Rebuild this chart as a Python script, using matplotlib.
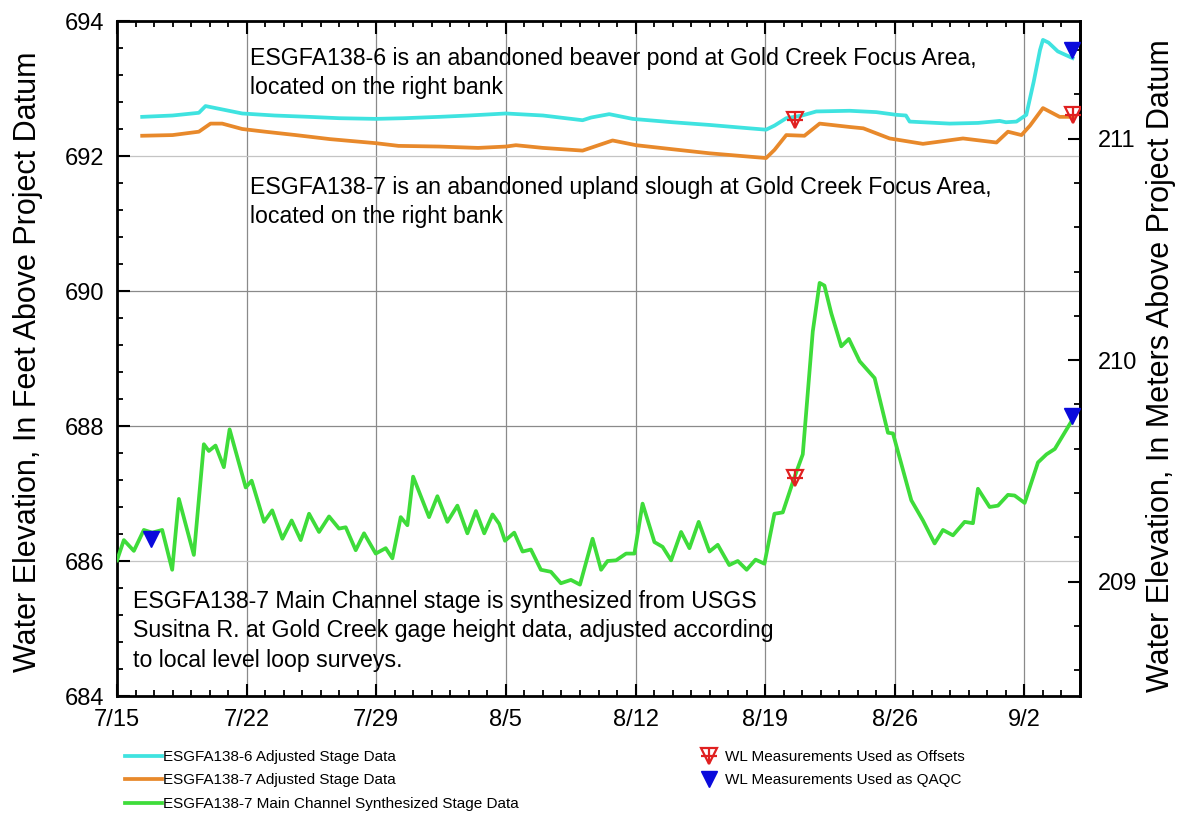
import datetime as dt
import matplotlib
matplotlib.use("Agg")
import matplotlib.pyplot as plt
import matplotlib.dates as mdates
from matplotlib.ticker import MultipleLocator, FixedLocator, NullFormatter
from matplotlib.legend_handler import HandlerTuple

plt.rcParams['font.family'] = ['Liberation Sans', 'DejaVu Sans']

START = dt.datetime(2013, 7, 15)
END_DAY = 52.0
FT_TO_M = 0.3048

# ESGFA138-6 adjusted stage (days after 7/15, feet)
pond_days = [1.36, 3.0, 4.42, 4.78, 5.32, 6.76, 8.5, 10.37, 12.0, 13.97, 15.5, 17.4,
             19.0, 21.0, 23.0, 25.14, 25.6, 26.58, 27.84, 30.0, 32.0, 34.15, 35.05,
             35.5, 36.14, 37.0, 37.76, 39.56, 41.0, 42.08, 42.6, 42.8, 44.96, 46.5,
             47.66, 48.0, 48.57, 49.1, 49.5, 49.84, 50.0, 50.3, 50.8, 51.2, 51.6]
pond_ft = [692.58, 692.60, 692.64, 692.74, 692.71, 692.63, 692.60, 692.58, 692.56,
           692.55, 692.56, 692.58, 692.60, 692.63, 692.60, 692.53, 692.57, 692.62,
           692.55, 692.50, 692.46, 692.41, 692.39, 692.45, 692.56, 692.60, 692.66,
           692.67, 692.65, 692.61, 692.60, 692.51, 692.48, 692.49, 692.52, 692.50,
           692.51, 692.61, 693.10, 693.57, 693.72, 693.68, 693.55, 693.50, 693.45]

# ESGFA138-7 adjusted stage
slough_days = [1.36, 3.0, 4.42, 5.05, 5.68, 6.76, 8.0, 9.65, 11.5, 13.97, 15.2, 17.4,
               19.5, 21.0, 21.54, 23.0, 25.14, 26.76, 28.03, 30.0, 32.0, 34.15, 35.05,
               35.5, 36.14, 37.12, 37.94, 39.56, 40.3, 41.72, 43.52, 45.68, 47.49,
               48.11, 48.84, 49.3, 50.0, 50.9, 51.63]
slough_ft = [692.30, 692.31, 692.36, 692.48, 692.48, 692.40, 692.36, 692.31, 692.25,
             692.19, 692.15, 692.14, 692.12, 692.14, 692.16, 692.12, 692.08, 692.23,
             692.16, 692.10, 692.04, 691.99, 691.97, 692.09, 692.31, 692.30, 692.48,
             692.43, 692.41, 692.26, 692.18, 692.26, 692.20, 692.36, 692.31, 692.45,
             692.71, 692.58, 692.58]

# ESGFA138-7 main channel synthesized stage
main_days = [0.0, 0.37, 0.91, 1.45, 1.9, 2.44, 2.98, 3.34, 4.15, 4.69, 4.96, 5.32, 5.77,
             6.08, 6.95, 7.27, 7.94, 8.38, 8.93, 9.43, 9.92, 10.37, 10.91, 11.45,
             11.99, 12.35, 12.89, 13.34, 13.97, 14.51, 14.87, 15.32, 15.68, 15.99,
             16.85, 17.30, 17.84, 18.38, 18.92, 19.38, 19.83, 20.28, 20.64, 20.95,
             21.45, 21.9, 22.35, 22.89, 23.43, 23.97, 24.51, 25.0, 25.68, 26.14,
             26.49, 26.95, 27.49, 27.94, 28.38, 29.02, 29.46, 29.92, 30.46, 30.91,
             31.41, 31.99, 32.44, 33.06, 33.52, 34.0, 34.48, 34.96, 35.5, 35.95,
             36.58, 37.03, 37.57, 37.94, 38.2, 38.57, 39.11, 39.52, 40.1, 40.91,
             41.63, 41.9, 42.89, 43.52, 44.15, 44.6, 45.14, 45.77, 46.22, 46.49,
             47.12, 47.57, 48.11, 48.47, 49.01, 49.73, 50.19, 50.64, 51.54]
main_ft = [686.01, 686.31, 686.15, 686.46, 686.42, 686.46, 685.87, 686.92, 686.09,
           687.73, 687.63, 687.71, 687.39, 687.95, 687.09, 687.19, 686.58, 686.75,
           686.33, 686.60, 686.31, 686.70, 686.43, 686.66, 686.48, 686.50, 686.16,
           686.41, 686.11, 686.19, 686.04, 686.65, 686.53, 687.25, 686.65, 686.96,
           686.58, 686.82, 686.41, 686.74, 686.41, 686.69, 686.55, 686.30, 686.42,
           686.14, 686.17, 685.87, 685.84, 685.67, 685.72, 685.65, 686.33, 685.87,
           686.00, 686.01, 686.11, 686.11, 686.85, 686.28, 686.21, 686.01, 686.43,
           686.19, 686.58, 686.14, 686.24, 685.94, 686.00, 685.87, 686.02, 685.96,
           686.70, 686.72, 687.24, 687.58, 689.40, 690.12, 690.08, 689.67, 689.18,
           689.29, 688.96, 688.71, 687.90, 687.89, 686.90, 686.60, 686.26, 686.46,
           686.38, 686.58, 686.56, 687.07, 686.80, 686.82, 686.98, 686.97, 686.86,
           687.46, 687.58, 687.66, 688.07]

# Water-level measurements
offset_days = [36.6, 36.6, 51.6]
offset_ft = [692.53, 687.23, 692.61]
qaqc_days = [1.81, 51.58, 51.58]
qaqc_ft = [686.33, 688.15, 693.57]

week_days = [0, 7, 14, 21, 28, 35, 42, 49]
week_labels = ["7/15", "7/22", "7/29", "8/5", "8/12", "8/19", "8/26", "9/2"]
ft_ticks = [684, 686, 688, 690, 692, 694]
m_ticks = [209, 210, 211]

POND_C = '#3FE3E0'
SLOUGH_C = '#E8892B'
MAIN_C = '#3EDC3A'
RED = '#E02020'
BLUE = '#0A0ADC'


def to_dates(days):
    return [START + dt.timedelta(days=d) for d in days]


W, H = 1184, 818
fig = plt.figure(figsize=(W / 100, H / 100), dpi=100)
ax = fig.add_axes([117 / W, 1 - 696 / H, (1080 - 117) / W, (696 - 21) / H])

l_pond, = ax.plot(to_dates(pond_days), pond_ft, color=POND_C, lw=2.7, zorder=3)
l_slough, = ax.plot(to_dates(slough_days), slough_ft, color=SLOUGH_C, lw=2.7, zorder=3)
l_main, = ax.plot(to_dates(main_days), main_ft, color=MAIN_C, lw=2.7, zorder=3)

m_off1, = ax.plot(to_dates(offset_days), offset_ft, ls='none', marker='v', ms=11,
                  mfc='none', mec=RED, mew=1.6, zorder=5)
m_off2, = ax.plot(to_dates(offset_days), offset_ft, ls='none', marker='+', ms=12,
                  mec=RED, mew=1.6, zorder=5)
m_qaqc, = ax.plot(to_dates(qaqc_days), qaqc_ft, ls='none', marker='v', ms=12,
                  mfc=BLUE, mec=BLUE, zorder=5)

ax.set_xlim(START, START + dt.timedelta(days=END_DAY))
ax.set_ylim(684, 694)

ax.xaxis.set_major_locator(FixedLocator(mdates.date2num(to_dates(week_days))))
ax.set_xticklabels(week_labels)
ax.xaxis.set_minor_locator(mdates.DayLocator())
ax.xaxis.set_minor_formatter(NullFormatter())
ax.yaxis.set_major_locator(FixedLocator(ft_ticks))
ax.yaxis.set_minor_locator(MultipleLocator(0.4))

ax.tick_params(axis='both', which='major', direction='in', length=9, width=1.5,
               labelsize=17, pad=9, top=True)
ax.tick_params(axis='both', which='minor', direction='in', length=4.5, width=1.3,
               top=True)
ax.tick_params(axis='y', right=False, which='both')

ax.grid(True, which='major', color='#8a8a8a', lw=0.9)
for line, val in zip(ax.yaxis.get_gridlines(), ft_ticks):
    if val in (686, 692):
        line.set_color('#c4c4c4')
for sp in ax.spines.values():
    sp.set_linewidth(2.0)

sec = ax.secondary_yaxis('right', functions=(lambda f: f * FT_TO_M, lambda m: m / FT_TO_M))
sec.yaxis.set_major_locator(FixedLocator(m_ticks))
sec.yaxis.set_minor_locator(MultipleLocator(0.2))
sec.tick_params(which='major', direction='in', length=9, width=1.5, labelsize=17, pad=13)
sec.tick_params(which='minor', direction='in', length=4.5, width=1.3)
sec.spines['right'].set_linewidth(2.0)

lab_kw = dict(fontsize=22, rotation=90, ha='center', va='center')
fig.text(28 / W, 1 - 362 / H, 'Water Elevation, In Feet Above Project Datum', **lab_kw)
fig.text(1161 / W, 1 - 366 / H, 'Water Elevation, In Meters Above Project Datum', **lab_kw)

txt_kw = dict(fontsize=16.7, linespacing=1.36, ha='left', va='center')
fig.text(250 / W, 1 - 73 / H,
         'ESGFA138-6 is an abandoned beaver pond at Gold Creek Focus Area,\n'
         'located on the right bank', **txt_kw)
fig.text(250 / W, 1 - 202 / H,
         'ESGFA138-7 is an abandoned upland slough at Gold Creek Focus Area,\n'
         'located on the right bank', **txt_kw)
fig.text(133 / W, 1 - 631 / H,
         'ESGFA138-7 Main Channel stage is synthesized from USGS\n'
         'Susitna R. at Gold Creek gage height data, adjusted according\n'
         'to local level loop surveys.', **txt_kw)

leg_kw = dict(frameon=False, fontsize=11, borderpad=0, borderaxespad=0,
              labelspacing=0.62, handletextpad=0.05, loc='upper left')
fig.legend([l_pond, l_slough, l_main],
           ['ESGFA138-6 Adjusted Stage Data',
            'ESGFA138-7 Adjusted Stage Data',
            'ESGFA138-7 Main Channel Synthesized Stage Data'],
           bbox_to_anchor=(125 / W, 1 - 750 / H), handlelength=2.45, **leg_kw)
fig.legend([(m_off1, m_off2), m_qaqc],
           ['WL Measurements Used as Offsets', 'WL Measurements Used as QAQC'],
           bbox_to_anchor=(694 / W, 1 - 750 / H), handlelength=2.0,
           handler_map={tuple: HandlerTuple(ndivide=1, pad=0)}, **leg_kw)

fig.savefig('out.png', dpi=100)
